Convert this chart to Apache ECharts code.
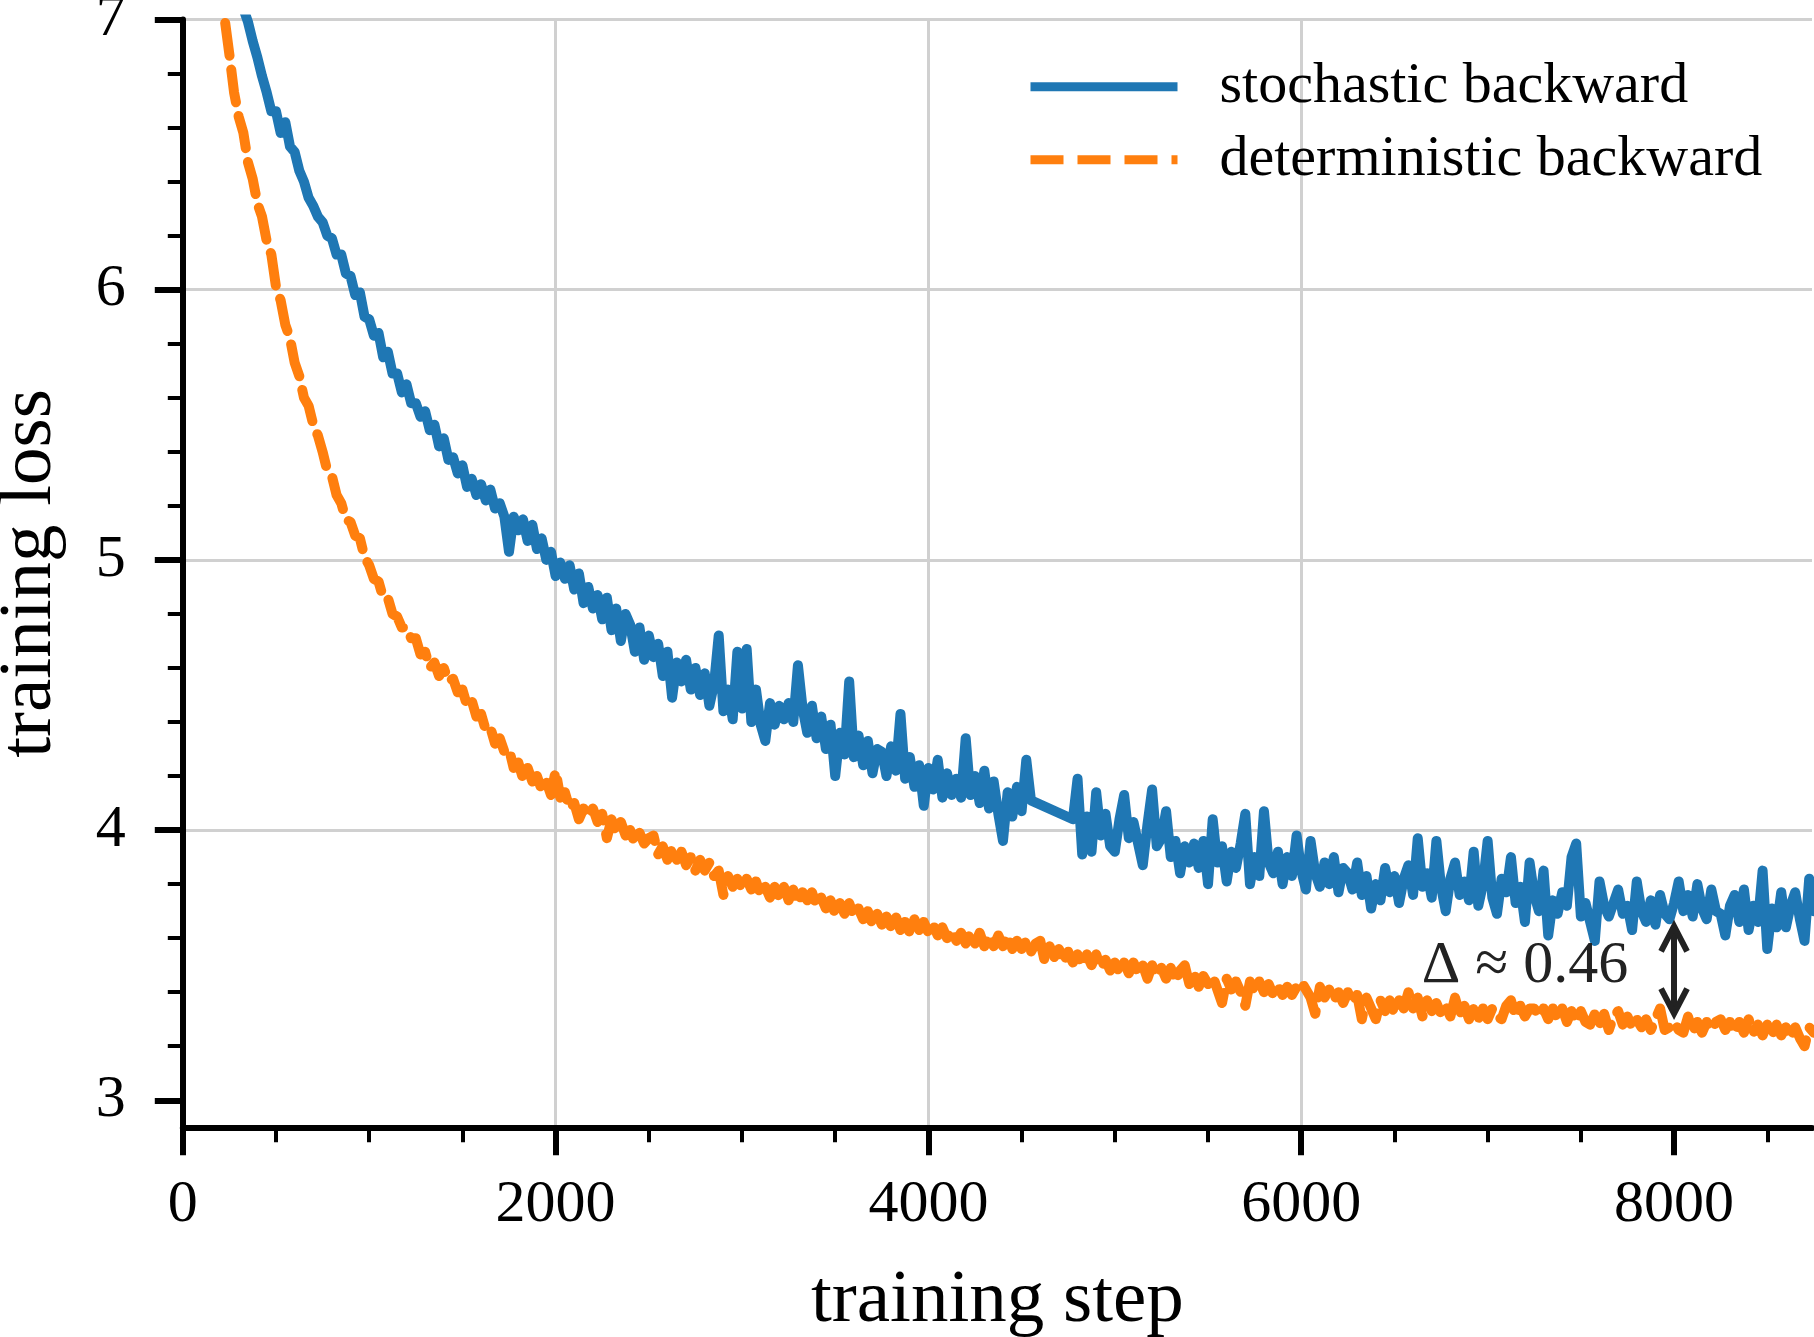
<!DOCTYPE html>
<html>
<head>
<meta charset="utf-8">
<title>training loss</title>
<script src="https://cdn.jsdelivr.net/npm/echarts@6/dist/echarts.min.js"></script>
<style>
  html, body { margin: 0; padding: 0; background: #fff; }
  #chart { width: 1814px; height: 1337px; }
</style>
</head>
<body>
<div id="chart"></div>
<script>
// loss logged every 25 steps, first value at step 200
const STEP_START = 200;
const STEP_SIZE = 25;

const SERIES_NAMES = ['stochastic backward', 'deterministic backward'];

// null = no log (line is joined straight across)
const stochastic = [
  7.62, 7.42,
  7.25, 7.17, 7.13, 7.04, 6.99, 6.92, 6.86, 6.79, 6.73, 6.66, 6.66, 6.58, 6.62, 6.53, 6.51, 6.44, 6.40, 6.34, 6.31, 6.27,
  6.25, 6.20, 6.19, 6.13, 6.13, 6.06, 6.05, 5.98, 5.99, 5.90, 5.89, 5.83, 5.84, 5.75, 5.77, 5.69, 5.69, 5.62, 5.65, 5.58,
  5.58, 5.53, 5.55, 5.48, 5.50, 5.42, 5.45, 5.37, 5.38, 5.32, 5.35, 5.27, 5.30, 5.24, 5.28, 5.22, 5.26, 5.19, 5.21, 5.16,
  5.03, 5.16, 5.11, 5.15, 5.07, 5.13, 5.04, 5.08, 5.00, 5.03, 4.94, 4.99, 4.93, 4.98, 4.89, 4.95, 4.84, 4.90, 4.82, 4.87,
  4.78, 4.86, 4.74, 4.82, 4.70, 4.80, 4.76, 4.66, 4.75, 4.63, 4.72, 4.64, 4.69, 4.57, 4.66, 4.49, 4.62, 4.55, 4.63, 4.52,
  4.60, 4.50, 4.58, 4.46, 4.54, 4.72, 4.44, 4.52, 4.41, 4.66, 4.45, 4.67, 4.40, 4.52, 4.39, 4.33, 4.47, 4.39, 4.46, 4.41,
  4.47, 4.40, 4.61, 4.45, 4.36, 4.46, 4.34, 4.42, 4.30, 4.39, 4.20, 4.36, 4.28, 4.55, 4.27, 4.35, 4.24, 4.33, 4.21, 4.30,
  4.29, 4.20, 4.31, 4.22, 4.43, 4.19, 4.27, 4.16, 4.24, 4.09, 4.23, 4.15, 4.26, 4.12, 4.21, 4.13, 4.19, 4.12, 4.34, 4.13,
  4.20, 4.10, 4.22, 4.08, 4.18, 4.06, 3.96, 4.14, 4.05, 4.16, 4.07, 4.26, 4.11, null, null, null, null, null, null, null,
  null, 4.04, 4.19, 3.91, 4.05, 3.92, 4.14, 3.98, 4.06, 3.94, 3.92, 4.04, 4.13, 3.97, 4.03, 3.95, 3.87, 4.02, 4.15, 3.94,
  3.97, 4.07, 3.90, 3.96, 3.84, 3.94, 3.88, 3.95, 3.86, 3.96, 3.80, 4.04, 3.88, 3.94, 3.81, 3.92, 3.86, 3.95, 4.06, 3.80,
  3.90, 3.83, 4.07, 3.88, 3.84, 3.92, 3.80, 3.90, 3.83, 3.98, 3.85, 3.78, 3.96, 3.84, 3.79, 3.88, 3.80, 3.90, 3.77, 3.86,
  3.84, 3.78, 3.88, 3.76, 3.83, 3.71, 3.80, 3.74, 3.86, 3.77, 3.83, 3.73, 3.82, 3.87, 3.76, 3.97, 3.79, 3.84, 3.75, 3.96,
  3.79, 3.70, 3.82, 3.88, 3.76, 3.81, 3.74, 3.92, 3.72, 3.80, 3.96, 3.75, 3.69, 3.82, 3.77, 3.90, 3.73, 3.79, 3.66, 3.88,
  3.76, 3.70, 3.85, 3.61, 3.74, 3.69, 3.77, 3.72, 3.90, 3.95, 3.68, 3.73, 3.66, 3.59, 3.81, 3.72, 3.68, 3.73, 3.78, 3.69,
  3.72, 3.63, 3.81, 3.70, 3.66, 3.74, 3.65, 3.76, 3.69, 3.67, 3.73, 3.81, 3.70, 3.76, 3.68, 3.80, 3.71, 3.67, 3.78, 3.70,
  3.69, 3.61, 3.72, 3.76, 3.66, 3.78, 3.63, 3.72, 3.66, 3.85, 3.56, 3.71, 3.64, 3.77, 3.64, 3.72, 3.77, 3.67, 3.59, 3.82,
  3.70
];

const deterministic = [
  7.16, 7.00,
  6.87, 6.73, 6.64, 6.58, 6.47, 6.41, 6.32, 6.27, 6.18, 6.13, 6.01, 5.96, 5.87, 5.82, 5.73, 5.68, 5.60, 5.57, 5.50, 5.46,
  5.40, 5.33, 5.31, 5.24, 5.21, 5.15, 5.14, 5.09, 5.08, 5.01, 4.98, 4.93, 4.92, 4.86, 4.86, 4.80, 4.79, 4.75, 4.75, 4.71,
  4.71, 4.65, 4.66, 4.60, 4.62, 4.57, 4.60, 4.55, 4.56, 4.51, 4.52, 4.46, 4.48, 4.42, 4.43, 4.37, 4.38, 4.32, 4.34, 4.29,
  4.30, 4.23, 4.25, 4.19, 4.23, 4.18, 4.20, 4.15, 4.18, 4.13, 4.22, 4.12, 4.14, 4.08, 4.10, 4.04, 4.08, 4.05, 4.08, 4.03,
  4.06, 3.97, 4.04, 3.99, 4.03, 3.98, 4.00, 3.95, 3.99, 3.95, 3.97, 3.98, 3.91, 3.94, 3.89, 3.93, 3.89, 3.92, 3.87, 3.90,
  3.85, 3.89, 3.85, 3.88, 3.83, 3.85, 3.76, 3.83, 3.79, 3.82, 3.78, 3.82, 3.78, 3.81, 3.76, 3.79, 3.75, 3.79, 3.75, 3.79,
  3.74, 3.78, 3.73, 3.77, 3.74, 3.77, 3.72, 3.75, 3.71, 3.74, 3.69, 3.73, 3.69, 3.73, 3.68, 3.71, 3.67, 3.70, 3.65, 3.69,
  3.65, 3.68, 3.64, 3.68, 3.63, 3.66, 3.62, 3.67, 3.63, 3.66, 3.62, 3.65, 3.61, 3.64, 3.60, 3.63, 3.59, 3.62, 3.58, 3.62,
  3.58, 3.62, 3.57, 3.61, 3.57, 3.61, 3.57, 3.61, 3.56, 3.59, 3.56, 3.59, 3.55, 3.58, 3.59, 3.51, 3.57, 3.53, 3.56, 3.51,
  3.55, 3.51, 3.54, 3.50, 3.54, 3.50, 3.54, 3.49, 3.52, 3.48, 3.51, 3.47, 3.51, 3.47, 3.51, 3.47, 3.50, 3.45, 3.50, 3.46,
  3.49, 3.45, 3.49, 3.44, 3.48, 3.50, 3.43, 3.47, 3.42, 3.46, 3.43, 3.46, 3.41, 3.36, 3.45, 3.41, 3.44, 3.40, 3.35, 3.44,
  3.40, 3.44, 3.40, 3.43, 3.39, 3.42, 3.39, 3.42, 3.39, 3.42, 3.44, 3.41, 3.38, 3.32, 3.42, 3.38, 3.41, 3.37, 3.40, 3.36,
  3.40, 3.36, 3.39, 3.30, 3.38, 3.34, 3.30, 3.37, 3.33, 3.37, 3.32, 3.37, 3.34, 3.40, 3.34, 3.38, 3.31, 3.37, 3.33, 3.36,
  3.32, 3.35, 3.31, 3.38, 3.32, 3.35, 3.30, 3.34, 3.30, 3.34, 3.30, 3.34, 3.31, 3.30, 3.35, 3.37, 3.31, 3.35, 3.31, 3.34,
  3.34, 3.31, 3.34, 3.30, 3.34, 3.30, 3.34, 3.29, 3.33, 3.29, 3.33, 3.29, 3.28, 3.32, 3.28, 3.32, 3.26, 3.31, 3.33, 3.28,
  3.31, 3.27, 3.30, 3.27, 3.30, 3.26, 3.30, 3.34, 3.26, 3.27, 3.29, 3.26, 3.25, 3.31, 3.25, 3.29, 3.25, 3.29, 3.26, 3.29,
  3.30, 3.26, 3.29, 3.25, 3.29, 3.25, 3.30, 3.25, 3.28, 3.24, 3.28, 3.24, 3.28, 3.24, 3.27, 3.23, 3.27, 3.23, 3.20, 3.27,
  3.25
];

const X_MAJOR = [0, 2000, 4000, 6000, 8000];
const X_MINOR = [500, 1000, 1500, 2500, 3000, 3500, 4500, 5000, 5500, 6500, 7000, 7500, 8500];
const Y_MAJOR = [3, 4, 5, 6, 7];
const Y_MINOR = [3.2, 3.4, 3.6, 3.8, 4.2, 4.4, 4.6, 4.8, 5.2, 5.4, 5.6, 5.8, 6.2, 6.4, 6.6, 6.8];

// gap annotation between the two curves
const GAP_STEP = 8000;
const GAP_TOP = 3.644;
const GAP_BOTTOM = 3.321;
const GAP_TEXT = 'Δ ≈ 0.46';
const GAP_TEXT_AT = [7200, 3.495];

const FONT = "'Liberation Serif', 'Times New Roman', serif";
const BLUE = '#1f77b4';
const ORANGE = '#ff7f0e';
// open chevron head; first point only pads the box so the tip sits on the symbol centre
const CHEVRON = 'path://M0,-26.4L0,-26.4M0,-6.5L15.66,23.62L10.34,26.38L0,6.5L-10.34,26.38L-15.66,23.62Z';

function toPairs(values) {
  return values.map((v, i) => [STEP_START + i * STEP_SIZE, v]);
}

const chart = echarts.init(document.getElementById('chart'), null, { renderer: 'canvas' });

const tickLine = (w) => ({ color: '#000', width: w });

const option = {
  animation: false,
  backgroundColor: '#fff',
  textStyle: { fontFamily: FONT },
  grid: { left: 182.8, right: 2, top: 19.5, bottom: 209.7, containLabel: false, outerBoundsMode: 'none' },
  legend: {
    data: SERIES_NAMES,
    orient: 'vertical',
    left: 1026,
    top: 57.7,
    padding: 0,
    itemWidth: 147,
    itemHeight: 20,
    itemGap: 15,
    itemStyle: { opacity: 0 },
    lineStyle: { width: 9, cap: 'butt' },
    textStyle: { fontSize: 58, fontFamily: FONT, color: '#000', padding: [3, 0, 0, 37] }
  },
  xAxis: [
    {
      type: 'value',
      position: 'bottom',
      min: 0,
      max: 8740,
      interval: 2000,
      name: 'training step',
      nameLocation: 'middle',
      nameGap: 136,
      nameTextStyle: { fontSize: 75, color: '#000', fontFamily: FONT },
      axisLine: { onZero: false, lineStyle: tickLine(6) },
      axisTick: { customValues: X_MAJOR, length: 28, lineStyle: tickLine(6) },
      axisLabel: {
        customValues: X_MAJOR,
        margin: 48,
        fontSize: 60,
        color: '#000',
        fontFamily: FONT,
        formatter: (v) => String(v)
      },
      splitLine: { show: true, showMaxLine: false, lineStyle: { color: '#d0d0d0', width: 3 } }
    },
    {
      type: 'value',
      position: 'bottom',
      min: 0,
      max: 8740,
      axisLine: { show: false },
      axisTick: { show: true, customValues: X_MINOR, length: 15, lineStyle: tickLine(4) },
      axisLabel: { show: false },
      splitLine: { show: false }
    }
  ],
  yAxis: [
    {
      type: 'value',
      position: 'left',
      min: 2.9,
      max: 7,
      splitNumber: 4,
      name: 'training loss',
      nameLocation: 'middle',
      nameGap: 115,
      nameTextStyle: { fontSize: 75, color: '#000', fontFamily: FONT },
      axisLine: { onZero: false, lineStyle: tickLine(6) },
      axisTick: { customValues: Y_MAJOR, length: 28, lineStyle: tickLine(6) },
      axisLabel: {
        customValues: Y_MAJOR,
        margin: 57,
        fontSize: 60,
        color: '#000',
        fontFamily: FONT,
        formatter: (v) => String(v)
      },
      splitLine: { show: true, showMinLine: false, lineStyle: { color: '#d0d0d0', width: 3 } }
    },
    {
      type: 'value',
      position: 'left',
      min: 2.9,
      max: 7,
      axisLine: { show: false },
      axisTick: { show: true, customValues: Y_MINOR, length: 15, lineStyle: tickLine(4) },
      axisLabel: { show: false },
      splitLine: { show: false }
    }
  ],
  series: [
    {
      name: SERIES_NAMES[0],
      type: 'line',
      xAxisIndex: 0,
      yAxisIndex: 0,
      data: toPairs(stochastic),
      connectNulls: true,
      symbol: 'none',
      showSymbol: false,
      itemStyle: { color: BLUE },
      lineStyle: { color: BLUE, width: 10, cap: 'round', join: 'round' },
      emphasis: { disabled: true },
      z: 2
    },
    {
      name: SERIES_NAMES[1],
      type: 'line',
      xAxisIndex: 0,
      yAxisIndex: 0,
      data: toPairs(deterministic),
      symbol: 'none',
      showSymbol: false,
      itemStyle: { color: ORANGE },
      lineStyle: { color: ORANGE, width: 10, type: [33, 14], cap: 'round', join: 'round' },
      emphasis: { disabled: true },
      z: 3,
      markLine: {
        silent: true,
        symbol: [CHEVRON, CHEVRON],
        symbolSize: [31.3, 52.8],
        label: { show: false },
        itemStyle: { color: '#222' },
        lineStyle: { color: '#222', width: 6, type: 'solid' },
        data: [[{ coord: [GAP_STEP, GAP_TOP] }, { coord: [GAP_STEP, GAP_BOTTOM] }]]
      },
      markPoint: {
        silent: true,
        symbol: 'circle',
        symbolSize: 1,
        itemStyle: { color: 'rgba(0,0,0,0)' },
        label: {
          show: true,
          position: 'inside',
          formatter: GAP_TEXT,
          fontSize: 60,
          color: '#222',
          fontFamily: FONT
        },
        data: [{ coord: GAP_TEXT_AT }]
      }
    }
  ]
};

chart.setOption(option);
</script>
</body>
</html>
